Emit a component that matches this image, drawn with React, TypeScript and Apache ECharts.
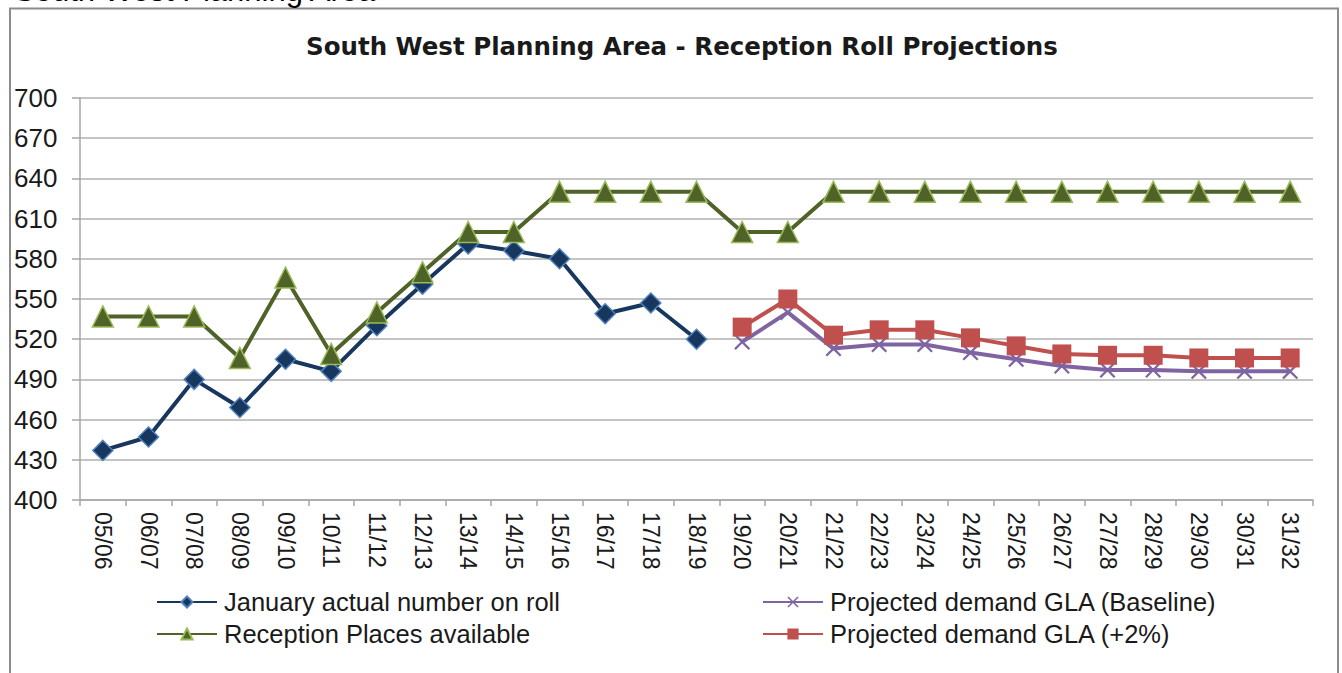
import React, { useEffect, useRef } from "react";
import * as echarts from "echarts";

const categories = [
  "05/06", "06/07", "07/08", "08/09", "09/10", "10/11", "11/12", "12/13", "13/14",
  "14/15", "15/16", "16/17", "17/18", "18/19", "19/20", "20/21", "21/22", "22/23",
  "23/24", "24/25", "25/26", "26/27", "27/28", "28/29", "29/30", "30/31", "31/32",
];

const januaryActual = [
  437, 447, 490, 469, 505, 496, 530, 561, 591, 586, 580, 539, 547, 520,
  null, null, null, null, null, null, null, null, null, null, null, null, null,
];

const receptionPlaces = [
  537, 537, 537, 506, 566, 509, 540, 570, 600, 600, 630, 630, 630, 630,
  600, 600, 630, 630, 630, 630, 630, 630, 630, 630, 630, 630, 630,
];

const projectedBaseline = [
  null, null, null, null, null, null, null, null, null, null, null, null, null, null,
  518, 540, 513, 516, 516, 510, 505, 500, 497, 497, 496, 496, 496,
];

const projectedPlus2 = [
  null, null, null, null, null, null, null, null, null, null, null, null, null, null,
  529, 550, 523, 527, 527, 521, 515, 509, 508, 508, 506, 506, 506,
];

const yTicks = { min: 400, max: 700, interval: 30 };

const titleText = "South West Planning Area - Reception Roll Projections";
const headingText = "South West Planning Area";

const FONT = 'Arial, "Liberation Sans", sans-serif';
const crossSymbol =
  "path://M0,1 L1,0 L5,4 L9,0 L10,1 L6,5 L10,9 L9,10 L5,6 L1,10 L0,9 L4,5 Z";

export default function App() {
  const ref = useRef<HTMLDivElement>(null);

  useEffect(() => {
    if (!ref.current) return;
    const chart = echarts.init(ref.current, null, { renderer: "svg" });
    const legendText = { fontSize: 25.5, color: "#1a1a1a", fontFamily: FONT, padding: [0, 0, 0, 2], lineHeight: 24 };
    chart.setOption({
      animation: false,
      backgroundColor: "#ffffff",
      title: {
        text: titleText,
        left: 306,
        top: 34,
        padding: 0,
        textStyle: { fontSize: 24.5, fontWeight: "bold", color: "#1a1a1a", fontFamily: '"DejaVu Sans", sans-serif' },
      },
      legend: [
        {
          orient: "vertical",
          left: 151,
          top: 584,
          itemWidth: 60,
          itemHeight: 14,
          itemGap: 6,
          textStyle: legendText,
          data: ["January actual number on roll", "Reception Places available"],
        },
        {
          orient: "vertical",
          left: 757,
          top: 584,
          itemWidth: 60,
          itemHeight: 14,
          itemGap: 6,
          textStyle: legendText,
          data: ["Projected demand GLA (Baseline)", "Projected demand GLA (+2%)"],
        },
      ],
      grid: { left: 80, right: 29, top: 98, bottom: 173, containLabel: false },
      xAxis: {
        type: "category",
        data: categories,
        boundaryGap: true,
        axisLine: { show: true, lineStyle: { color: "#a6a6a6", width: 1.5 } },
        axisTick: { show: true, length: 6, lineStyle: { color: "#a6a6a6", width: 1.5 } },
        axisLabel: {
          rotate: -90,
          fontSize: 23,
          color: "#1a1a1a",
          fontFamily: FONT,
          margin: 12,
          interval: 0,
        },
      },
      yAxis: {
        type: "value",
        min: yTicks.min,
        max: yTicks.max,
        interval: yTicks.interval,
        axisLine: { show: true, lineStyle: { color: "#a6a6a6", width: 1.5 } },
        axisTick: { show: true, length: 8, lineStyle: { color: "#a6a6a6", width: 1.5 } },
        splitLine: { show: true, lineStyle: { color: "#c4c4c4", width: 2 } },
        axisLabel: {
          fontSize: 26,
          color: "#1a1a1a",
          fontFamily: FONT,
          align: "left",
          margin: 66,
        },
      },
      graphic: [
        {
          type: "rect",
          shape: { x: 10, y: 8.5, width: 1328, height: 720 },
          style: { fill: "none", stroke: "#8c8c8c", lineWidth: 2 },
          silent: true,
        },
        {
          type: "text",
          x: 14,
          y: 6,
          style: {
            text: headingText,
            font: `31px ${FONT}`,
            fill: "#000",
            verticalAlign: "bottom",
          },
          silent: true,
        },
      ],
      series: [
        {
          name: "January actual number on roll",
          type: "line",
          data: januaryActual,
          symbol: "diamond",
          symbolSize: 20,
          lineStyle: { color: "#17375E", width: 4 },
          itemStyle: { color: "#17375E", borderColor: "#4F81BD", borderWidth: 1.5 },
          connectNulls: false,
        },
        {
          name: "Reception Places available",
          type: "line",
          data: receptionPlaces,
          symbol: "triangle",
          symbolSize: 21,
          lineStyle: { color: "#4F6228", width: 4 },
          itemStyle: { color: "#4F6228", borderColor: "#9BBB59", borderWidth: 1.5 },
        },
        {
          name: "Projected demand GLA (Baseline)",
          type: "line",
          data: projectedBaseline,
          symbol: crossSymbol,
          symbolSize: 16,
          lineStyle: { color: "#8064A2", width: 4 },
          itemStyle: { color: "#8064A2" },
        },
        {
          name: "Projected demand GLA (+2%)",
          type: "line",
          data: projectedPlus2,
          symbol: "rect",
          symbolSize: 19,
          lineStyle: { color: "#C0504D", width: 4 },
          itemStyle: { color: "#C0504D" },
        },
      ],
    });
    return () => chart.dispose();
  }, []);

  return (
    <div
      ref={ref}
      style={{ position: "fixed", left: 0, top: 0, width: 1342, height: 673 }}
    />
  );
}
